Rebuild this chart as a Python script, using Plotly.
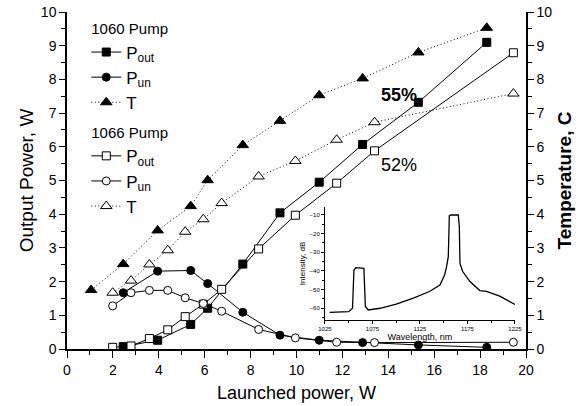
import plotly.graph_objects as go

# ---- data ----
x_1060 = [2.45, 3.95, 5.39, 6.13, 7.66, 9.28, 10.99, 12.88, 15.31, 18.29]
pout_1060 = [0.07, 0.26, 0.73, 1.21, 2.52, 4.04, 4.95, 6.07, 7.32, 9.10]
pun_1060 = [1.67, 2.31, 2.33, 1.94, 1.09, 0.41, 0.26, 0.19, 0.12, 0.05]
xT_1060 = [1.05, 2.45, 3.95, 5.39, 6.13, 7.66, 9.28, 10.99, 12.88, 15.31, 18.29]
T_1060 = [1.75, 2.52, 3.52, 4.24, 5.01, 6.05, 6.77, 7.53, 8.03, 8.80, 9.53]

x_1066 = [1.99, 2.79, 3.59, 4.39, 5.15, 5.94, 6.74, 8.35, 9.95, 11.75, 13.40, 19.45]
pout_1066 = [0.05, 0.09, 0.31, 0.57, 0.96, 1.33, 1.77, 2.97, 3.97, 4.92, 5.88, 8.79]
pun_1066 = [1.28, 1.67, 1.74, 1.74, 1.52, 1.35, 1.12, 0.58, 0.33, 0.20, 0.19, 0.20]
T_1066 = [1.67, 2.03, 2.51, 2.93, 3.48, 3.85, 4.33, 5.12, 5.58, 6.21, 6.73, 7.58]

wl = [1030, 1040, 1050, 1054, 1055.5, 1057.5, 1062, 1066, 1067.5, 1070.5, 1083,
      1100, 1118, 1135, 1146, 1151, 1153, 1154.8, 1155.9, 1157.3, 1165.3, 1166.4,
      1167.1, 1170, 1177.6, 1188, 1195, 1209, 1225]
intensity = [-62.2, -62, -61.8, -60, -39.5, -38.2, -38.3, -38.6, -59, -60.9, -60,
             -57.8, -54.6, -51, -47.5, -42, -37.7, -32.3, -10.5, -10, -10, -16,
             -36, -40.3, -45.7, -50.5, -51, -53.5, -58]

FONT = "Liberation Sans, Arial, sans-serif"
DOT = "1px,2.5px"

fig = go.Figure()

def add(x, y, name, sym, fill, dash, yaxis, group, title):
    fig.add_trace(go.Scatter(
        x=x, y=y, name=name, mode="lines+markers", yaxis=yaxis,
        line=dict(color="black", width=1, dash=dash),
        marker=dict(symbol=sym, size=8 if "triangle" not in sym else 10,
                    color=fill, line=dict(color="black", width=1)),
        legendgroup=group,
        legendgrouptitle=dict(text=title, font=dict(size=15, family=FONT, color="black")),
    ))

add(x_1060, pout_1060, "P<sub>out</sub>", "square", "black", "solid", "y", "1060", "1060 Pump")
add(x_1060, pun_1060, "P<sub>un</sub>", "circle", "black", "solid", "y", "1060", "1060 Pump")
add(xT_1060, T_1060, "T", "triangle-up", "black", DOT, "y2", "1060", "1060 Pump")
add(x_1066, pout_1066, "P<sub>out</sub>", "square", "white", "solid", "y", "1066", "1066 Pump")
add(x_1066, pun_1066, "P<sub>un</sub>", "circle", "white", "solid", "y", "1066", "1066 Pump")
add(x_1066, T_1066, "T", "triangle-up", "white", DOT, "y2", "1066", "1066 Pump")

fig.add_trace(go.Scatter(x=wl, y=intensity, mode="lines", xaxis="x3", yaxis="y3",
                         line=dict(color="black", width=1.3), showlegend=False))

axis_common = dict(showline=True, linecolor="black", linewidth=1.5, showgrid=False,
                   zeroline=False, ticks="outside", tickcolor="black", tickwidth=1,
                   automargin=False,
                   tickfont=dict(family=FONT, size=14, color="black"))

fig.update_layout(
    width=582, height=406,
    margin=dict(l=67, r=56, t=12, b=57, autoexpand=False),
    paper_bgcolor="white", plot_bgcolor="rgba(0,0,0,0)",
    xaxis=dict(range=[0, 20], dtick=2, ticklen=7,
               minor=dict(dtick=1, ticks="outside", ticklen=4, tickcolor="black"),
               title=dict(text="Launched power, W", font=dict(family=FONT, size=18, color="black"),
                          standoff=10),
               **axis_common),
    xaxis2=dict(range=[0, 20], overlaying="x", side="top", anchor="y", showline=True,
                linecolor="black", linewidth=1.5, ticks="inside", dtick=1, ticklen=4,
                tickcolor="black", showticklabels=False, showgrid=False, zeroline=False),
    yaxis=dict(range=[0, 10], dtick=1, ticklen=6,
               minor=dict(dtick=0.5, ticks="outside", ticklen=4, tickcolor="black"),
               title=dict(text="Output Power, W", font=dict(family=FONT, size=19, color="black"),
                          standoff=2),
               **axis_common),
    yaxis2=dict(range=[0, 10], dtick=1, ticklen=6, overlaying="y", side="right",
                minor=dict(dtick=0.5, ticks="outside", ticklen=4, tickcolor="black"),
                title=dict(text="<b>Temperature, C</b>", font=dict(family=FONT, size=19, color="black"),
                           standoff=6),
                **axis_common),
    xaxis3=dict(domain=[0.562, 0.976], anchor="y3", range=[1025, 1225], dtick=50,
                tick0=1025, showline=True, linecolor="black", linewidth=1,
                ticks="outside", ticklen=3, tickcolor="black", showgrid=False, zeroline=False,
                minor=dict(dtick=25, ticks="outside", ticklen=2, tickcolor="black"),
                tickfont=dict(family=FONT, size=6, color="black"),
                title=dict(text="Wavelength, nm", font=dict(family=FONT, size=9, color="black"),
                           standoff=1)),
    yaxis3=dict(domain=[0.086, 0.422], anchor="x3", range=[-66.3, -5.6], dtick=10,
                tick0=-60, showline=True, linecolor="black", linewidth=1,
                ticks="outside", ticklen=3, tickcolor="black", showgrid=False, zeroline=False,
                minor=dict(dtick=5, ticks="outside", ticklen=2, tickcolor="black"),
                tickfont=dict(family=FONT, size=6, color="black"),
                title=dict(text="Intensity, dB", font=dict(family=FONT, size=8, color="black"),
                           standoff=2)),
    legend=dict(x=0.042, y=1.0, xanchor="left", yanchor="top", bgcolor="rgba(0,0,0,0)",
                font=dict(family=FONT, size=17, color="black"), traceorder="grouped",
                tracegroupgap=6, itemwidth=30, maxheight=400),
    showlegend=True,
    annotations=[
        dict(x=14.47, y=7.55, xref="x", yref="y", text="<b>55%</b>", showarrow=False,
             font=dict(family=FONT, size=18, color="black")),
        dict(x=14.47, y=5.45, xref="x", yref="y", text="52%", showarrow=False,
             font=dict(family=FONT, size=18, color="black")),
    ],
)

fig.write_html("out.html", config={"displayModeBar": False},
               post_script="document.body.style.margin='0';")
